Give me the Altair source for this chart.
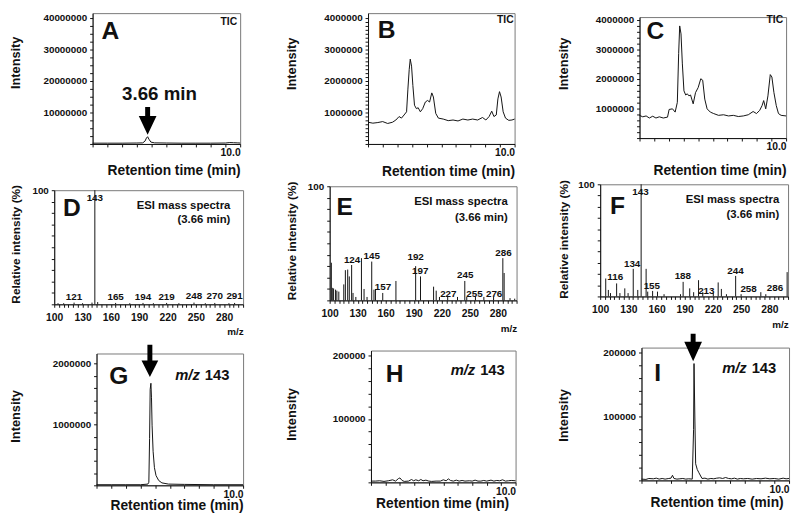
import altair as alt
import pandas as pd

FONT = "Liberation Sans"
INK = "#111111"

# ---------------- chromatograms (retention time in min, intensity) ----------------
a_time = [0, 1, 2, 3, 3.4, 3.55, 3.65, 3.73, 3.82, 3.95, 4.2, 5, 6, 7, 8, 9, 9.3, 9.55, 9.8, 10]
a_int = [250000, 250000, 250000, 300000, 350000, 900000, 1900000, 2300000, 1500000, 600000,
         350000, 300000, 250000, 250000, 250000, 300000, 450000, 400000, 350000, 300000]

b_time = [0, 0.33, 0.67, 1.0, 1.34, 1.67, 1.9, 2.12, 2.28, 2.46,
          2.63, 2.72, 2.81, 2.88, 2.97, 3.06, 3.17, 3.3, 3.42, 3.57,
          3.73, 3.91, 4.06, 4.2, 4.35, 4.46, 4.62, 4.8, 5.13, 5.47,
          5.8, 6.14, 6.47, 6.81, 7.14, 7.48, 7.81, 8.04, 8.26, 8.44,
          8.59, 8.75, 8.86, 8.97, 9.08, 9.22, 9.38, 9.6, 9.82, 10]
b_int = [690000, 660000, 680000, 710000, 650000, 690000, 760000, 870000, 820000, 920000,
         1020000, 1740000, 2360000, 2690000, 2470000, 1850000, 1230000, 1120000, 1150000, 1020000,
         1120000, 1330000, 1380000, 1330000, 1620000, 1490000, 970000, 820000, 790000, 740000,
         760000, 730000, 790000, 760000, 790000, 760000, 840000, 760000, 870000, 1040000,
         870000, 920000, 1430000, 1660000, 1490000, 1020000, 820000, 750000, 760000, 790000]

c_time = [0, 0.22, 0.45, 0.67, 0.9, 1.12, 1.35, 1.62, 1.91, 2.02,
          2.25, 2.43, 2.58, 2.67, 2.74, 2.83, 2.92, 3.03, 3.15, 3.26,
          3.37, 3.48, 3.66, 3.82, 4.0, 4.18, 4.31, 4.45, 4.61, 4.83,
          5.06, 5.39, 5.73, 6.07, 6.4, 6.74, 7.08, 7.42, 7.75, 7.98,
          8.2, 8.36, 8.47, 8.61, 8.76, 8.92, 9.03, 9.17, 9.33, 9.48,
          9.66, 10]
c_int = [770000, 720000, 750000, 680000, 740000, 680000, 720000, 680000, 710000, 970000,
         990000, 880000, 1210000, 2870000, 3800000, 3530000, 2540000, 1600000, 1460000, 1500000,
         1430000, 1460000, 1160000, 1540000, 1710000, 2010000, 1960000, 1320000, 990000, 880000,
         830000, 770000, 790000, 750000, 770000, 730000, 750000, 790000, 900000, 830000,
         940000, 1100000, 1270000, 990000, 1430000, 2150000, 2070000, 1540000, 1100000, 830000,
         770000, 750000]

g_time = [0, 1, 2, 3, 3.5, 3.57, 3.62, 3.66, 3.71, 3.75, 3.79, 3.86, 3.95, 4.06, 4.24, 4.46,
          4.91, 6, 8, 10]
g_int = [10000, 10000, 10000, 10000, 20000, 50000, 770000, 1580000, 1680000, 1440000, 990000,
         560000, 290000, 160000, 80000, 40000, 20000, 15000, 10000, 10000]

h_time = [0, 0.3, 0.6, 0.9, 1.2, 1.5, 1.7, 1.9, 2.0, 2.15,
          2.3, 2.6, 2.8, 2.95, 3.1, 3.3, 3.45, 3.6, 3.8, 4.0,
          4.2, 4.5, 4.8, 5.0, 5.2, 5.35, 5.5, 5.7, 5.9, 6.1,
          6.3, 6.5, 6.8, 7.0, 7.2, 7.4, 7.6, 7.8, 8.0, 8.3,
          8.5, 8.7, 8.9, 9.1, 9.3, 9.5, 9.7, 10]
h_int = [2000, 2000, 2500, 1500, 2500, 4000, 2000, 6000, 7000, 3000,
         1500, 2000, 4500, 2500, 4000, 2500, 4500, 2500, 3500, 2000,
         1500, 2000, 2000, 4000, 2500, 5500, 3000, 2000, 3500, 2000,
         3000, 2000, 2500, 2000, 3500, 2000, 2000, 3000, 2000, 3500,
         2000, 3000, 2500, 4000, 2000, 2500, 3000, 2500]

i_time = [0, 0.3, 0.5, 0.8, 1.0, 1.2, 1.4, 1.6, 1.85, 2.0,
          2.1, 2.2, 2.4, 2.6, 2.8, 3.0, 3.2, 3.44, 3.53, 3.56,
          3.62, 3.67, 3.78, 3.89, 4.1, 4.3, 4.5, 4.7, 4.9, 5.1,
          5.3, 5.5, 5.7, 5.9, 6.1, 6.3, 6.5, 6.7, 6.9, 7.2,
          7.5, 7.8, 8.1, 8.4, 8.7, 9.0, 9.3, 9.6, 9.8, 10]
i_int = [2000, 1500, 3000, 2500, 3500, 2000, 3000, 2000, 3000, 3500,
         8000, 3000, 2000, 2500, 3000, 2000, 2500, 2000, 80000, 183000,
         93000, 26000, 17000, 12000, 3000, 3500, 2000, 3000, 2500, 3500,
         4000, 3000, 4500, 3000, 2500, 3500, 2000, 3000, 2500, 3000,
         2000, 3000, 2500, 3500, 2500, 3000, 2000, 3500, 2500, 3000]

# ---------------- ESI mass spectra (m/z, relative intensity %) ----------------
d_mz = [104, 110, 121, 130, 140, 143, 146, 165, 180, 194, 205, 219, 232, 248, 260, 270, 285, 291]
d_rel = [1, 1, 1.5, 1, 1.5, 100, 2, 1.2, 1, 1.2, 1, 1.2, 1, 1.5, 1, 1.2, 1, 1.2]
d_lab = [121, 143, 165, 194, 219, 248, 270, 291]
d_lab_y = [3.5, 90.6, 3.5, 3.5, 4, 5, 5, 5]

e_mz = [101.8, 102.8, 104.2, 106.3, 107.7, 109.8, 115.1, 116.8, 119.3, 121,
        123.5, 125, 128, 134, 136.8, 140, 145, 147.4, 149, 156.8,
        170.9, 192, 197.2, 211.2, 214, 217.5, 226.3, 236.8, 244.6, 246.7,
        256, 265, 275.4, 285.3, 286.7, 293, 298]
e_rel = [33, 11, 10.5, 9.4, 8.5, 7.7, 14, 26.5, 27, 21,
         31, 6.5, 3, 37, 10, 3, 34, 9.4, 10, 6.5,
         17, 30, 21, 12, 8.5, 3, 3, 3, 17, 3,
         3, 3, 3, 37, 24, 2, 1.5]
e_lab = [124, 145, 157, 192, 197, 227, 245, 255, 276, 286]
e_lab_y = [33, 36.5, 8.8, 35.3, 22.8, 3.1, 19.4, 2.6, 3.1, 39.3]

f_mz = [105.9, 108.7, 111, 117.5, 121, 126.2, 129.7, 135.2, 140, 143.6,
        148.9, 150.6, 155.8, 161, 168, 185.5, 188.3, 195.3, 199.5, 204.7,
        209.2, 220.4, 225.6, 229, 234.4, 244.2, 250, 271, 276.3, 299]
f_rel = [16, 5.8, 3, 11.6, 3, 7.2, 3, 24.6, 5.8, 100,
         24.6, 4.3, 4.9, 4.3, 2, 2, 13, 7.2, 3.8, 14.5,
         3.8, 3, 12.5, 6.7, 2, 18.3, 2, 3.8, 2, 21.7]
f_lab = [116, 134, 143, 155, 188, 213, 244, 258, 286]
f_lab_y = [14.5, 26.7, 90.4, 6.7, 15.9, 2.6, 20, 3.8, 4.9]


def arrow_shape(total, head, width, shaft=5.0):
    # filled down-arrow (shaft + head) as a symbol path in the unit square
    u = total / 2.0
    hs = -1 + (total - head) / u
    hw = (width / 2.0) / u
    sw = (shaft / 2.0) / u
    return (f"M{-sw:.3f},-1L{sw:.3f},-1L{sw:.3f},{hs:.3f}L{hw:.3f},{hs:.3f}"
            f"L0,1L{-hw:.3f},{hs:.3f}L{-sw:.3f},{hs:.3f}Z")


def note(s, x, y, size, align="left", italic=False):
    return (
        alt.Chart(pd.DataFrame({"s": [s]}))
        .mark_text(align=align, baseline="alphabetic", font=FONT, fontSize=size,
                   fontWeight="bold", fontStyle="italic" if italic else "normal", color=INK)
        .encode(text="s:N", x=alt.value(x), y=alt.value(y))
    )


def spacer():
    # invisible 1x1 cell so each panel is placed by its outer bounds
    return (
        alt.Chart(pd.DataFrame({"s": [0]}))
        .mark_rule(strokeOpacity=0)
        .encode(x=alt.value(0), x2=alt.value(1), y=alt.value(0))
        .properties(width=1, height=1, view=alt.ViewBackground(strokeOpacity=0))
    )


def chromatogram(t, v, w, h, ymax, step, major, ytx, yty, xty, letter, lx, ly,
                 xtx=None, tic=None, mz=None, arrow=None, extra=()):
    df = pd.DataFrame({"t": t, "v": v})
    top_major = (ymax // major) * major
    n = int(top_major // step)
    yvals = [k * step for k in range(n + 1)]
    xaxis = dict(values=list(range(11)), labelExpr="datum.value === 10 ? '10.0' : ''",
                 labelFlush=True, labelFontSize=10.5, labelPadding=1, tickSize=3,
                 labelOverlap=False, title="Retention time (min)", titleFontSize=14,
                 titleAnchor="end", titleBaseline="alphabetic", titleY=xty)
    if xtx is not None:
        xaxis["titleX"] = xtx
    x_enc = alt.X("t:Q", scale=alt.Scale(domain=[0, 10], nice=False, zero=False),
                  axis=alt.Axis(**xaxis))
    y_enc = alt.Y("v:Q", scale=alt.Scale(domain=[0, ymax], nice=False, zero=False),
                  axis=alt.Axis(values=yvals,
                                labelExpr=f"datum.value > 0 && datum.value % {major} === 0 ? format(datum.value, 'd') : ''",
                                labelFontSize=10, labelPadding=3, tickSize=3, labelOverlap=False,
                                title="Intensity", titleFontSize=13, titleX=ytx, titleY=yty))
    layers = [alt.Chart(df).mark_line(color=INK, strokeWidth=1).encode(x=x_enc, y=y_enc),
              note(letter, lx, ly, 25)]
    if tic is not None:
        layers.append(note("TIC", tic[0], tic[1], 10.5, align="right"))
    if mz is not None:
        layers.append(note("m/z", mz[0], mz[1], 15, italic=True))
        layers.append(note("143", mz[0] + 30, mz[1], 15))
    if arrow is not None:
        at, yc, total, head, width = arrow
        adf = pd.DataFrame({"t": [at]})
        layers.append(alt.Chart(adf).mark_point(shape=arrow_shape(total, head, width),
                                                size=total * total, filled=True,
                                                color="black", opacity=1, strokeWidth=0)
                      .encode(x=x_enc, y=alt.value(yc)))
    layers.extend(extra)
    panel = alt.layer(*layers).properties(width=w, height=h)
    return alt.hconcat(spacer(), panel, spacing=0)


def spectrum(mz, rel, lab, lab_y, w, h, ytx, yty, xty, letter, lx, ly, ex, ey1, ey2):
    peaks = pd.DataFrame({"mz": mz, "rel": rel})
    labels = pd.DataFrame({"mz": lab, "rel": lab_y, "s": [str(x) for x in lab]})
    x_enc = alt.X("mz:Q", scale=alt.Scale(domain=[100, 300], nice=False, zero=False),
                  axis=alt.Axis(values=list(range(100, 301, 5)),
                                labelExpr="(datum.value - 100) % 30 === 0 && datum.value <= 280 ? '' + datum.value : ''",
                                labelFlush=False, labelFontSize=10.5, labelPadding=5, tickSize=3,
                                labelOverlap=False, title="m/z", titleFontSize=10,
                                titleAnchor="end", titleBaseline="alphabetic", titleY=xty))
    y_enc = alt.Y("rel:Q", scale=alt.Scale(domain=[0, 100], nice=False),
                  axis=alt.Axis(values=list(range(0, 101, 10)),
                                labelExpr="datum.value === 100 ? '100' : ''",
                                labelFontSize=10, labelPadding=3, tickSize=3, labelOverlap=False,
                                title="Relative intensity (%)", titleFontSize=12,
                                titleX=ytx, titleY=yty))
    bars = alt.Chart(peaks).mark_rule(color=INK, strokeWidth=1).encode(
        x=x_enc, y=y_enc, y2=alt.datum(0))
    labs = alt.Chart(labels).mark_text(baseline="alphabetic", font=FONT, fontSize=10,
                                       fontWeight="bold", color=INK).encode(
        x=x_enc, y=y_enc, text="s:N")
    panel = alt.layer(
        bars, labs, note(letter, lx, ly, 25),
        note("ESI mass spectra", ex, ey1, 11.5, align="right"),
        note("(3.66 min)", ex, ey2, 11.5, align="right"),
    ).properties(width=w, height=h)
    return alt.hconcat(spacer(), panel, spacing=0)


A = chromatogram(a_time, a_int, 150, 133, 41500000, 2500000, 10000000, -71, 50, 31, "A", 9, 26,
                 tic=(147, 12), arrow=(3.73, 109.5, 28, 19, 18),
                 extra=[note("3.66 min", 30, 88, 19)])
B = chromatogram(b_time, b_int, 149, 133, 4150000, 125000, 1000000, -71, 51, 32, "B", 10, 25,
                 tic=(148, 10))
C = chromatogram(c_time, c_int, 149, 123, 4100000, 200000, 1000000, -70, 47, 37, "C", 7, 22,
                 tic=(146, 6))
D = spectrum(d_mz, d_rel, d_lab, d_lab_y, 192, 116, -32, 54.5, 31, "D", 9, 26, 179, 19, 33)
E = spectrum(e_mz, e_rel, e_lab, e_lab_y, 190, 116, -32, 55, 32, "E", 7, 29, 181, 19, 35)
F = spectrum(f_mz, f_rel, f_lab, f_lab_y, 191, 114, -30, 55.5, 32, "F", 10, 30, 182, 19, 34.5)
G = chromatogram(g_time, g_int, 149, 134, 2170000, 200000, 1000000, -75, 63.5, 25, "G", 13, 31,
                 mz=(80, 27), arrow=(3.64, 7.5, 33, 17, 17))
H = chromatogram(h_time, h_int, 147, 134, 208000, 20000, 100000, -74, 64.5, 26, "H", 15, 32,
                 xtx=140, mz=(81, 25))
I = chromatogram(i_time, i_int, 150, 135, 208000, 20000, 100000, -72, 68.5, 27, "I", 13, 34,
                 xtx=144, mz=(82, 26), arrow=(3.5, 0, 28, 20, 18))


def stack(top, mid, bottom, s1, s2):
    return alt.vconcat(alt.vconcat(top, mid, spacing=s1), bottom, spacing=s2)


col1 = stack(A, D, G, 5, 6)
col2 = stack(B, E, H, 1, 15)
col3 = alt.vconcat(spacer(), stack(C, F, I, 0, 2), spacing=0)

chart = (
    alt.hconcat(col1, col2, col3, spacing=38, padding=0)
    .configure(font=FONT)
    .configure_view(stroke="#777777", strokeWidth=1)
    .configure_axis(labelFont=FONT, titleFont=FONT, labelFontWeight="bold",
                    titleFontWeight="bold", labelColor=INK, titleColor=INK,
                    domainColor=INK, tickColor=INK, domainWidth=1, tickWidth=1, grid=False)
)

chart.save("out.html", embed_options={"renderer": "svg", "actions": False})
